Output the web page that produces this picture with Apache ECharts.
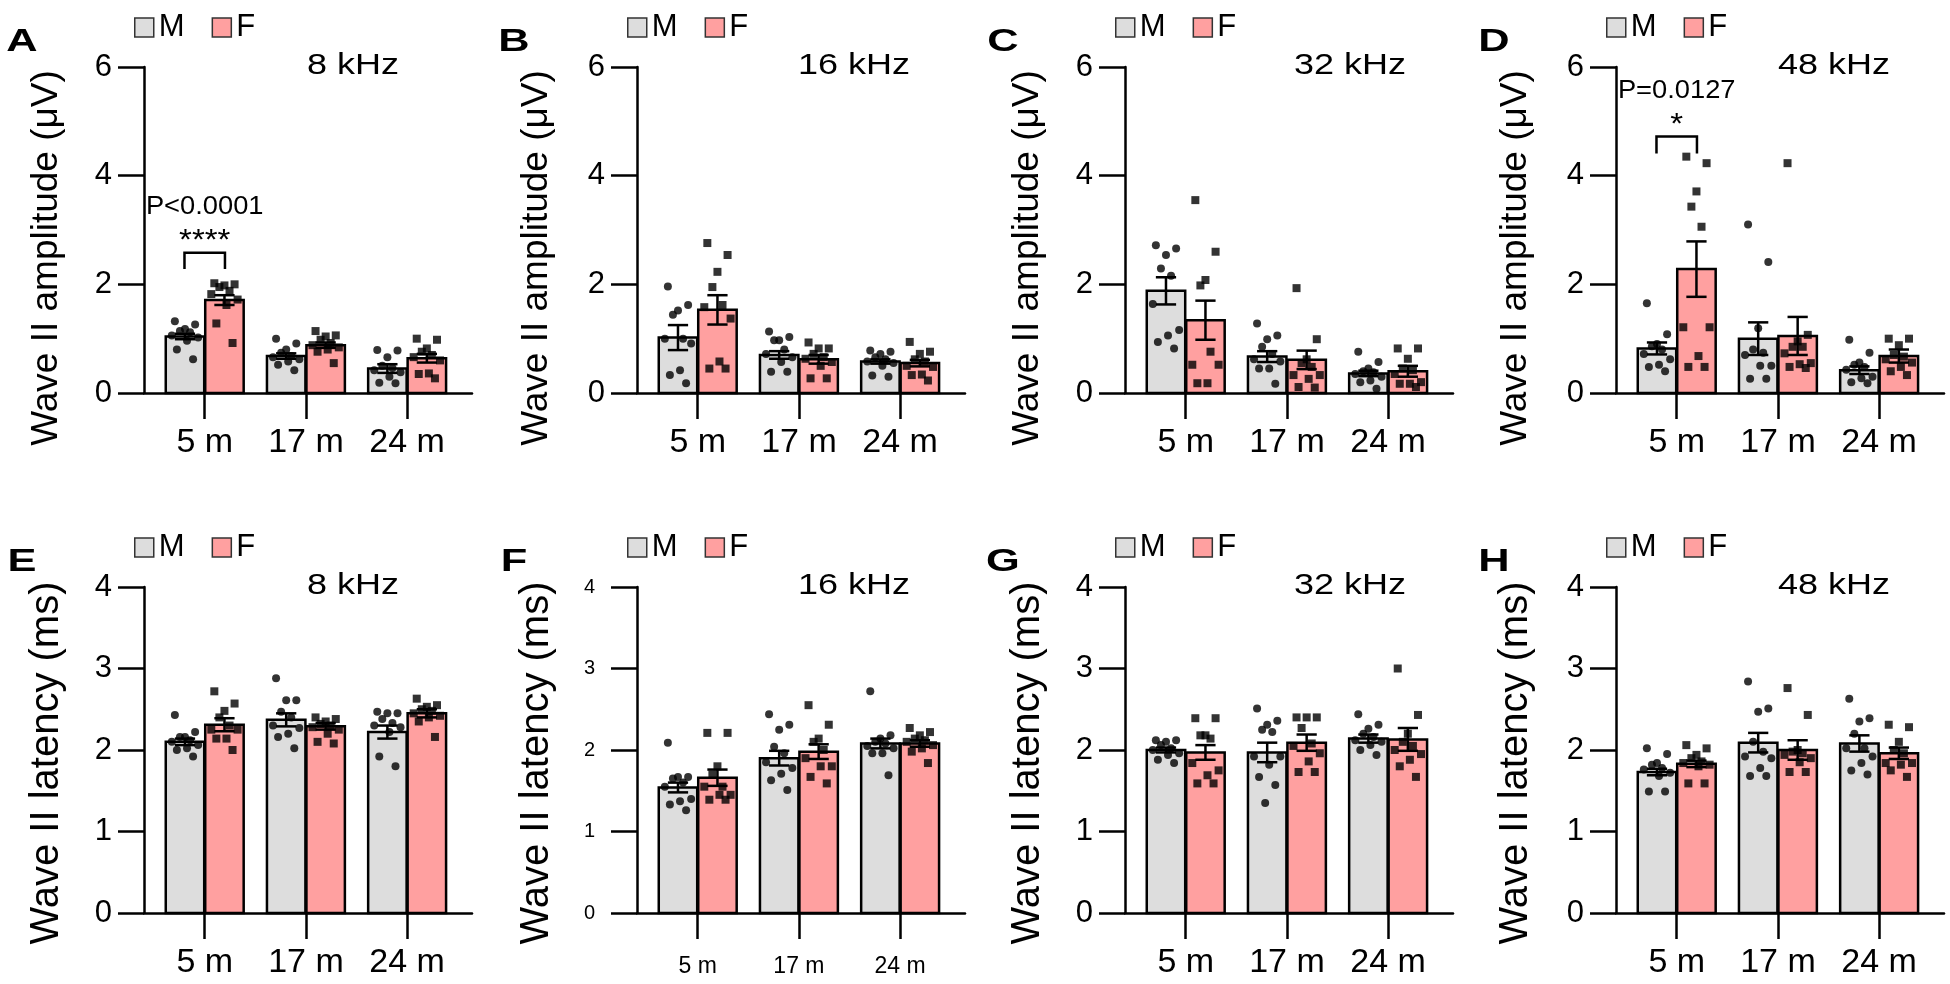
<!DOCTYPE html>
<html><head><meta charset="utf-8">
<script src="https://cdn.jsdelivr.net/npm/echarts@6/dist/echarts.min.js"></script>
<style>html,body{margin:0;padding:0;background:#fff;}#main{width:1950px;height:984px;}</style>
</head><body><div id="main"></div>
<script>
// ---------- DATA ----------
const categories = ['5 m', '17 m', '24 m'];
const sexNames = ['M', 'F'];
const panelLetters = ['A', 'B', 'C', 'D', 'E', 'F', 'G', 'H'];
const panelFreqs = ['8 kHz', '16 kHz', '32 kHz', '48 kHz', '8 kHz', '16 kHz', '32 kHz', '48 kHz'];
const ampTitle = 'Wave II amplitude (μV)';
const latTitle = 'Wave II latency (ms)';

// Bar means per panel [5 m, 17 m, 24 m]  (A-D amplitude, E-H latency)
const meanM = [
  [1.04, 0.68, 0.45], [1.02, 0.70, 0.58], [1.88, 0.67, 0.36], [0.82, 1.00, 0.42],
  [2.10, 2.37, 2.22], [1.54, 1.90, 2.08], [2.00, 1.97, 2.14], [1.73, 2.09, 2.08]
];
const meanF = [
  [1.71, 0.88, 0.64], [1.53, 0.62, 0.55], [1.34, 0.61, 0.40], [2.28, 1.05, 0.68],
  [2.31, 2.29, 2.45], [1.66, 1.98, 2.08], [1.97, 2.09, 2.13], [1.83, 2.00, 1.96]
];
// SEM per panel
const semM = [
  [0.05, 0.05, 0.08], [0.23, 0.07, 0.04], [0.25, 0.10, 0.05], [0.11, 0.30, 0.07],
  [0.04, 0.08, 0.08], [0.06, 0.09, 0.06], [0.03, 0.12, 0.05], [0.04, 0.12, 0.10]
];
const semF = [
  [0.09, 0.05, 0.08], [0.27, 0.08, 0.06], [0.36, 0.17, 0.10], [0.51, 0.35, 0.12],
  [0.08, 0.04, 0.05], [0.10, 0.09, 0.04], [0.09, 0.10, 0.14], [0.04, 0.12, 0.07]
];
// Individual animals
const ptsM = [
  [[1.32,1.26,1.18,1.14,1.12,1.06,1.02,0.96,0.80,0.62],[1.00,0.91,0.80,0.74,0.68,0.66,0.62,0.58,0.52,0.42],[0.79,0.78,0.66,0.50,0.46,0.42,0.38,0.30,0.19,0.18]],
  [[1.96,1.62,1.52,1.44,1.00,1.00,0.91,0.42,0.33,0.18],[1.13,1.03,0.97,0.97,0.80,0.72,0.66,0.57,0.39,0.39],[0.78,0.76,0.72,0.66,0.62,0.58,0.55,0.50,0.32,0.30]],
  [[2.72,2.66,2.54,2.29,2.16,1.64,1.16,1.06,0.94,0.82],[1.28,1.06,0.99,0.85,0.72,0.62,0.58,0.45,0.45,0.17],[0.76,0.57,0.45,0.40,0.38,0.35,0.30,0.23,0.20,0.08]],
  [[1.65,1.08,0.90,0.86,0.80,0.72,0.62,0.52,0.48,0.40],[3.10,2.41,1.19,0.80,0.74,0.70,0.50,0.50,0.26,0.26],[0.98,0.74,0.56,0.52,0.48,0.43,0.30,0.27,0.20,0.18]],
  [[2.43,2.22,2.16,2.16,2.12,2.10,2.06,2.02,2.00,1.92],[2.88,2.61,2.61,2.47,2.40,2.30,2.27,2.20,2.16,2.02],[2.47,2.45,2.45,2.38,2.33,2.30,2.28,2.22,1.92,1.80]],
  [[2.09,1.67,1.67,1.65,1.60,1.55,1.40,1.37,1.33,1.26],[2.44,2.31,2.25,2.04,1.96,1.85,1.78,1.71,1.63,1.51],[2.72,2.18,2.14,2.10,2.08,2.05,2.02,1.96,1.96,1.69]],
  [[2.12,2.12,2.10,2.06,2.02,2.00,1.96,1.94,1.88,1.84],[2.51,2.36,2.31,2.25,2.22,1.92,1.92,1.82,1.67,1.57,1.35],[2.44,2.31,2.26,2.20,2.16,2.12,2.10,2.06,2.00,1.94]],
  [[2.02,1.95,1.84,1.82,1.78,1.76,1.72,1.68,1.49,1.49],[2.84,2.51,2.47,2.10,1.98,1.92,1.90,1.78,1.68,1.68],[2.63,2.39,2.35,2.20,2.02,2.02,1.92,1.84,1.75,1.70]]
];
const ptsF = [
  [[2.02,2.00,1.98,1.95,1.88,1.82,1.72,1.62,1.28,0.92],[1.14,1.06,1.04,0.98,0.92,0.88,0.84,0.80,0.76,0.55],[1.00,0.98,0.82,0.76,0.70,0.66,0.60,0.36,0.35,0.27]],
  [[2.76,2.54,2.23,1.95,1.62,1.58,1.37,0.58,0.45,0.45],[0.93,0.82,0.82,0.72,0.66,0.63,0.57,0.50,0.27,0.27],[0.94,0.76,0.72,0.62,0.58,0.50,0.48,0.34,0.33,0.23]],
  [[3.55,2.60,2.08,1.98,0.76,0.52,0.52,0.18,0.18],[1.93,0.99,0.62,0.55,0.48,0.33,0.33,0.26,0.11,0.10],[0.82,0.82,0.63,0.45,0.42,0.35,0.20,0.17,0.17,0.11]],
  [[4.35,4.23,3.71,3.43,3.06,1.21,1.21,0.68,0.48,0.48],[4.23,1.07,0.95,0.85,0.85,0.73,0.55,0.53,0.48,0.46],[1.00,1.00,0.88,0.70,0.67,0.62,0.56,0.48,0.40,0.33]],
  [[2.72,2.57,2.48,2.40,2.30,2.25,2.25,2.14,2.14,2.00],[2.40,2.38,2.35,2.32,2.30,2.28,2.25,2.20,2.10,2.08],[2.63,2.55,2.53,2.50,2.48,2.45,2.42,2.40,2.35,2.16]],
  [[2.21,2.21,1.80,1.70,1.55,1.55,1.45,1.45,1.39,1.39],[2.55,2.31,2.14,2.10,2.00,1.90,1.80,1.80,1.67,1.59],[2.27,2.22,2.18,2.14,2.12,2.10,2.06,2.02,1.98,1.84]],
  [[2.39,2.39,2.18,2.18,2.14,1.84,1.75,1.69,1.59,1.59],[2.40,2.40,2.40,2.27,2.08,2.05,1.96,1.86,1.73,1.73],[3.00,2.43,2.20,2.10,2.05,2.00,1.95,1.88,1.80,1.67]],
  [[2.06,2.02,1.94,1.90,1.86,1.84,1.82,1.80,1.59,1.59],[2.76,2.43,2.00,1.98,1.96,1.94,1.90,1.85,1.73,1.73],[2.31,2.28,2.10,2.00,1.96,1.84,1.84,1.82,1.75,1.67]]
];
// Significance annotations
const sigPanel = [0, 3];
const sigCat = [1, 1];
const sigLevel = [2.58, 4.72];
const sigLegEnd = [2.28, 4.41];
const sigStars = ['****', '*'];
const sigP = ['P<0.0001', 'P=0.0127'];
const ampTicks = [0, 6, 2];
const latTicks = [0, 4, 1];

// ---------- LAYOUT / STYLE ----------
const FONT = '"Liberation Sans", Arial, Helvetica, sans-serif';
const gridLefts = [144, 637, 1125, 1616];
const rowTops = [67, 587];
const GW = 328, GH = 326;
const XMIN = 0.4, XMAX = 0.4 + GW / 101.2;
const sexColors = ['#dddddd', '#ffa0a0'];
const sexOffset = [-0.195, 0.195];
const HALF = 0.19, CAP = 0.1;
const jitter = [-0.1, 0.1, 0, -0.05, 0.05, -0.13, 0.13, 0.02, -0.08, 0.08, -0.02];
const titleDx = [209, 217, 225, 218];
const letterX = [22, 514, 1003, 1494];
const yTitleDx = [-97, -100, -97, -100];
const yTitleCy = [258, 763];
const yTitleSize = [37, 40];
const AX = { color: '#000', width: 2.5 };

const grids = [], xAxes = [], yAxes = [], series = [], legends = [], graphics = [];
const meansArr = [meanM, meanF], semArr = [semM, semF], ptsArr = [ptsM, ptsF];

for (let p = 0; p < 8; p++) {
  const row = Math.floor(p / 4), col = p % 4, isAmp = row === 0;
  const small = p === 5;
  const gl = gridLefts[col], gt = rowTops[row];
  const tk = isAmp ? ampTicks : latTicks;
  grids.push({ left: gl, top: gt, width: GW, height: GH, containLabel: false });
  xAxes.push({
    gridIndex: p, type: 'value', min: XMIN, max: XMAX,
    axisLine: { show: true, onZero: false, lineStyle: AX },
    axisTick: { show: true, customValues: [1, 2, 3], length: 26, lineStyle: AX },
    axisLabel: { show: true, customValues: [1, 2, 3], formatter: v => categories[Math.round(v) - 1],
      fontSize: small ? 23 : 34, color: '#000', fontFamily: FONT, margin: small ? 42 : 33 },
    splitLine: { show: false }
  });
  yAxes.push({
    gridIndex: p, type: 'value', min: tk[0], max: tk[1], interval: tk[2],
    axisLine: { show: true, onZero: false, lineStyle: AX },
    axisTick: { show: true, length: 26, lineStyle: AX },
    axisLabel: { fontSize: small ? 20 : 31, color: '#000', fontFamily: FONT, margin: small ? 42 : 32 },
    splitLine: { show: false }
  });
  for (let s = 0; s < 2; s++) {
    const off = sexOffset[s], col2 = sexColors[s];
    series.push({
      type: 'custom', name: sexNames[s], xAxisIndex: p, yAxisIndex: p, z: 2,
      itemStyle: { color: col2, borderColor: '#000' },
      encode: { x: 0, y: 1 },
      data: meansArr[s][p].map((m, c) => [c + 1, m, semArr[s][p][c]]),
      renderItem: (params, api) => {
        const cx = api.value(0) + off, m = api.value(1), e = api.value(2);
        const tl = api.coord([cx - HALF, m]), br = api.coord([cx + HALF, 0]);
        const top = api.coord([cx, m + e]), bot = api.coord([cx, m - e]);
        const cl = api.coord([cx - CAP, m])[0], cr = api.coord([cx + CAP, m])[0];
        const ls = { stroke: '#000', lineWidth: 2.5 };
        return { type: 'group', children: [
          { type: 'rect', shape: { x: tl[0], y: tl[1], width: br[0] - tl[0], height: br[1] - tl[1] },
            style: { fill: col2, stroke: '#000', lineWidth: 2.5 } },
          { type: 'line', z2: 20, shape: { x1: top[0], y1: top[1], x2: bot[0], y2: bot[1] }, style: ls },
          { type: 'line', z2: 20, shape: { x1: cl, y1: top[1], x2: cr, y2: top[1] }, style: ls },
          { type: 'line', z2: 20, shape: { x1: cl, y1: bot[1], x2: cr, y2: bot[1] }, style: ls }
        ]};
      }
    });
    const pts = [];
    ptsArr[s][p].forEach((vals, c) => vals.forEach((v, i) => pts.push([c + 1 + off + jitter[i % jitter.length], v])));
    series.push({
      type: 'scatter', name: sexNames[s] + ' animals', xAxisIndex: p, yAxisIndex: p, z: 3, silent: true,
      symbol: s === 0 ? 'circle' : 'rect', symbolSize: 8, itemStyle: { color: '#000' }, data: pts
    });
  }
  legends.push({
    left: gl - 10, top: row === 0 ? 12 : 532, padding: 0, orient: 'horizontal',
    itemWidth: 19, itemHeight: 19, itemGap: 27, selectedMode: false,
    textStyle: { fontSize: 31, color: '#000', fontFamily: FONT },
    data: sexNames.map((n, s) => ({ name: n, icon: 'rect',
      itemStyle: { color: sexColors[s], borderColor: '#333', borderWidth: 1.5 } }))
  });
  graphics.push({ type: 'text', x: letterX[col], y: row === 0 ? 42 : 562, scaleX: 1.4,
    style: { text: panelLetters[p], font: 'bold 31px ' + FONT, fill: '#000', textAlign: 'center', textVerticalAlign: 'middle' } });
  graphics.push({ type: 'text', x: gl + titleDx[col], y: row === 0 ? 66 : 586, scaleX: 1.2,
    style: { text: panelFreqs[p], font: '30px ' + FONT, fill: '#000', textAlign: 'center', textVerticalAlign: 'middle' } });
  graphics.push({ type: 'text', x: gl + yTitleDx[col], y: yTitleCy[row], rotation: Math.PI / 2,
    style: { text: isAmp ? ampTitle : latTitle, font: yTitleSize[row] + 'px ' + FONT, fill: '#000', textAlign: 'center', textVerticalAlign: 'middle' } });
}

sigPanel.forEach((p, k) => {
  series.push({
    type: 'custom', xAxisIndex: p, yAxisIndex: p, z: 4, silent: true,
    data: [[sigCat[k], sigLevel[k], sigLegEnd[k]]],
    renderItem: (params, api) => {
      const c = api.value(0), lv = api.value(1), le = api.value(2);
      const a = api.coord([c - 0.2, le]), b = api.coord([c - 0.2, lv]);
      const d = api.coord([c + 0.2, lv]), e = api.coord([c + 0.2, le]);
      const mid = api.coord([c, lv]);
      return { type: 'group', children: [
        { type: 'polyline', shape: { points: [a, b, d, e] }, style: { stroke: '#000', lineWidth: 2.5, fill: null } },
        { type: 'text', x: mid[0], y: mid[1] - 12, scaleX: 1.1, style: { text: sigStars[k], font: '30px ' + FONT, fill: '#000', textAlign: 'center', textVerticalAlign: 'middle' } },
        { type: 'text', x: mid[0], y: mid[1] - 46, scaleX: 1.05, style: { text: sigP[k], font: '26px ' + FONT, fill: '#000', textAlign: 'center', textVerticalAlign: 'middle' } }
      ]};
    }
  });
});

const chart = echarts.init(document.getElementById('main'), null, { renderer: 'canvas' });
chart.setOption({
  animation: false,
  backgroundColor: '#fff',
  textStyle: { fontFamily: FONT },
  grid: grids, xAxis: xAxes, yAxis: yAxes, legend: legends, series: series,
  graphic: { elements: graphics }
});
</script></body></html>
